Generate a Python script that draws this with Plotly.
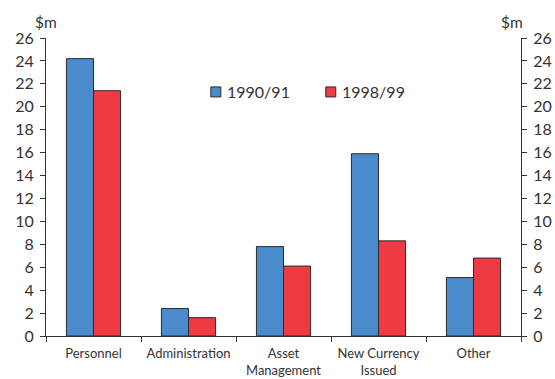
import plotly.graph_objects as go

categories = ["Personnel", "Administration", "Asset<br>Management", "New Currency<br>Issued", "Other"]
series_1990 = [24.2, 2.4, 7.8, 15.9, 5.1]
series_1998 = [21.4, 1.6, 6.1, 8.3, 6.8]
series_names = ["1990/91", "1998/99"]
y_ticks = list(range(0, 27, 2))

FONT = "Lato, 'Open Sans', sans-serif"
TXT = "#333333"
BLUE = "#4A8CCB"
RED = "#EE3A43"
colors = [BLUE, RED]

fig = go.Figure()
for name, vals, c in zip(series_names, [series_1990, series_1998], colors):
    fig.add_trace(go.Bar(name=name, x=categories, y=vals, showlegend=False,
                         marker=dict(color=c, line=dict(color="#2a2a2a", width=1))))
# invisible trace to show the right-hand axis
fig.add_trace(go.Scatter(x=categories, y=series_1990, yaxis="y2", mode="markers",
                         marker=dict(opacity=0), showlegend=False, hoverinfo="skip"))

axis_common = dict(range=[0, 26], tickvals=y_ticks, showgrid=False, zeroline=False,
                   showline=True, linecolor=TXT, linewidth=1, ticks="outside",
                   ticklen=5, tickcolor=TXT, ticklabelstandoff=3, automargin=False,
                   tickfont=dict(size=16, color=TXT, family=FONT))

# manual legend (box + text), positions in paper coordinates
legend_x = [0.347, 0.589]
legend_y = 0.819
box_w = 10 / 475
box_h = 10 / 298
shapes = []
annotations = []
for name, c, lx in zip(series_names, colors, legend_x):
    shapes.append(dict(type="rect", xref="paper", yref="paper",
                       x0=lx, x1=lx + box_w, y0=legend_y - box_h / 2, y1=legend_y + box_h / 2,
                       fillcolor=c, line=dict(color="#2a2a2a", width=1)))
    annotations.append(dict(text=name, xref="paper", yref="paper", x=lx + box_w, xshift=4,
                            y=legend_y, xanchor="left", yanchor="middle", showarrow=False,
                            font=dict(size=16, color=TXT, family=FONT)))

annotations += [
    dict(text="$m", xref="paper", yref="paper", x=0.0, y=1.0, yshift=5,
         xanchor="right", yanchor="bottom", xshift=13, showarrow=False,
         font=dict(size=15.5, color=TXT, family=FONT)),
    dict(text="$m", xref="paper", yref="paper", x=1.0, y=1.0, yshift=5,
         xanchor="left", yanchor="bottom", xshift=-22, showarrow=False,
         font=dict(size=15.5, color=TXT, family=FONT)),
]

fig.update_layout(
    width=555, height=379,
    margin=dict(l=46, r=34, t=38, b=43, autoexpand=False),
    paper_bgcolor="white", plot_bgcolor="white",
    barmode="group", bargap=0.43, bargroupgap=0,
    font=dict(family=FONT, color=TXT),
    xaxis=dict(showline=True, linecolor=TXT, linewidth=1, ticks="outside",
               tickson="boundaries", ticklen=5, tickcolor=TXT, automargin=False,
               ticklabelstandoff=5,
               tickfont=dict(size=13, color=TXT, family=FONT), showgrid=False),
    yaxis=dict(side="left", **axis_common),
    yaxis2=dict(side="right", overlaying="y", **axis_common),
    showlegend=False,
    shapes=shapes,
    annotations=annotations,
)

fig.write_html("out.html")
